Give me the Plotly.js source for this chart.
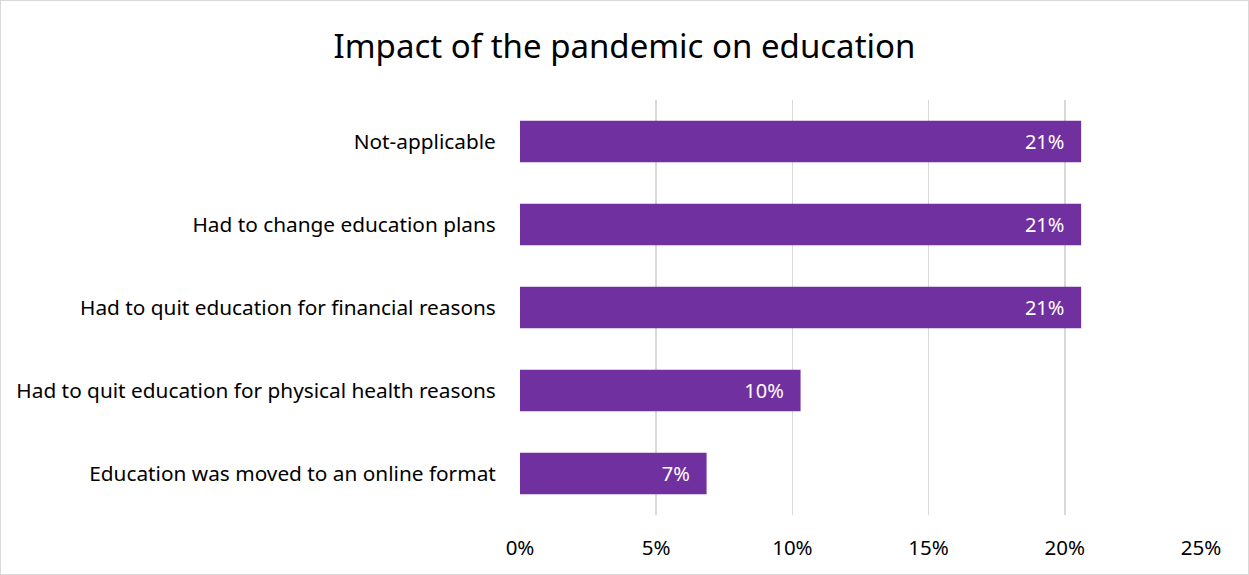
<!DOCTYPE html>
<html><head><meta charset="utf-8">
<script src="https://cdn.plot.ly/plotly-3.0.1.min.js"></script>
<style>html,body{margin:0;padding:0;background:#fff}#c{width:1249px;height:575px;box-sizing:border-box;border:1px solid #d9d9d9}</style>
</head><body><div id="c"></div>
<script>
const categories = ["Not-applicable","Had to change education plans","Had to quit education for financial reasons","Had to quit education for physical health reasons","Education was moved to an online format"];
const values = [0.206, 0.206, 0.206, 0.103, 0.0685];
const tickVals = [0, 0.05, 0.10, 0.15, 0.20, 0.25];
const tickText = ["0%","5%","10%","15%","20%","25%"];
const font = "'Noto Sans', 'Open Sans', sans-serif";
Plotly.newPlot('c', [{
  type:'bar', orientation:'h', y:categories, x:values,
  marker:{color:'#7030a0'}, width:0.5,
  texttemplate:'%{x:.0%}\u00a0\u00a0\u2009', textposition:'inside', insidetextanchor:'end',
  textfont:{color:'#ffffff', size:20, family:font}, hoverinfo:'none', cliponaxis:false
}], {
  width:1247, height:573,
  margin:{l:519, r:47, t:99, b:59},
  paper_bgcolor:'#fff', plot_bgcolor:'#fff',
  title:{text:'Impact of the pandemic on education', font:{size:33, family:font, color:'#000'}, x:0.5, xanchor:'center', y:0.92, yanchor:'middle'},
  xaxis:{range:[0,0.25], tickvals:tickVals, ticktext:tickText, showgrid:true, gridcolor:'#d9d9d9', gridwidth:1.5, zeroline:false, showline:false, tickfont:{size:20.5, family:font, color:'#000'}, ticks:'outside', ticklen:14, tickcolor:'rgba(0,0,0,0)', fixedrange:true},
  yaxis:{autorange:'reversed', showgrid:false, zeroline:false, showline:false, tickfont:{size:20.8, family:font, color:'#000'}, ticks:'outside', ticklen:19, tickcolor:'rgba(0,0,0,0)', fixedrange:true},
  showlegend:false, bargap:0.5
}, {displayModeBar:false, staticPlot:true});
</script></body></html>
